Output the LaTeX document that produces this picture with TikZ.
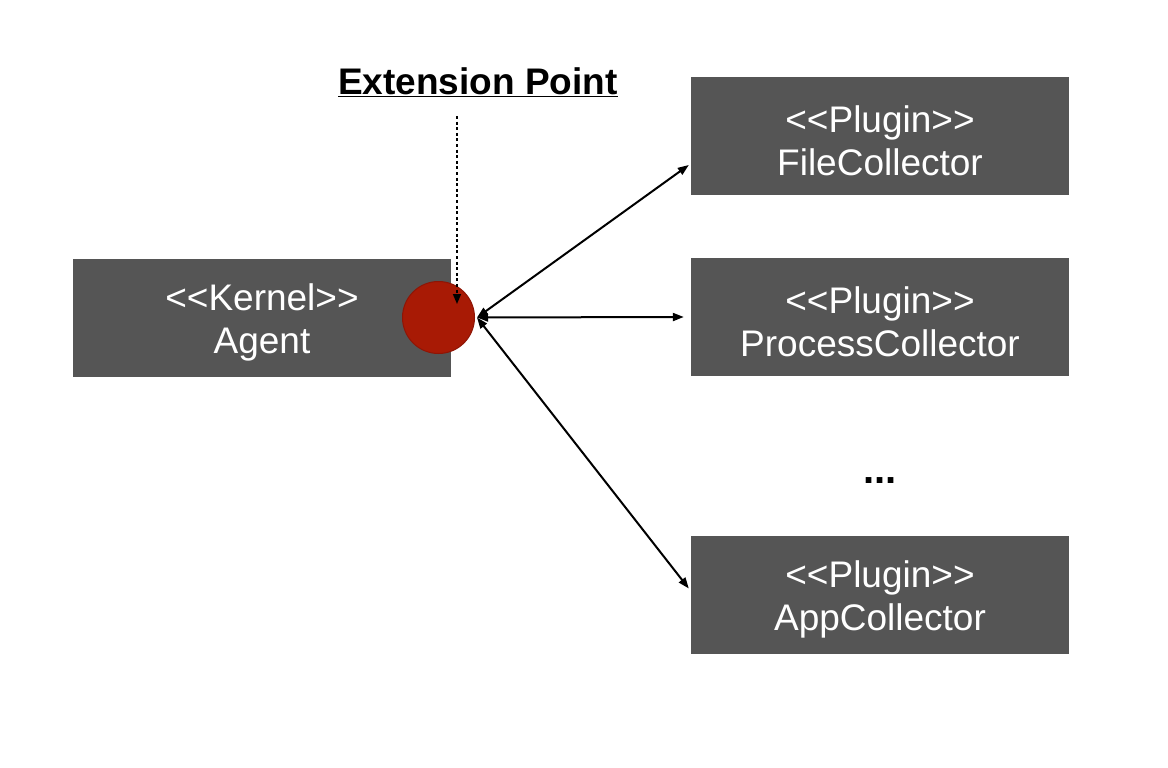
\documentclass[tikz,border=0pt]{standalone}
\usepackage{fontspec}
\setmainfont{Liberation Sans}
\usetikzlibrary{arrows.meta}
\definecolor{boxgray}{HTML}{555555}
\definecolor{epred}{HTML}{A81A05}
\definecolor{epredd}{HTML}{8E1505}
\newcommand{\lt}{\mbox{<}}
\newcommand{\gtt}{\mbox{>}}
\newcommand{\topstrut}{\rule{0pt}{37pt}}
\begin{document}
\begin{tikzpicture}[x=1pt,y=-1pt,
  box/.style={fill=boxgray, draw=none, minimum width=378pt, minimum height=118pt,
    inner sep=0pt, align=center, text=white, font=\fontsize{37}{43}\selectfont},
  conn/.style={line width=2pt, {Triangle[length=11pt,width=8pt]}-{Triangle[length=11pt,width=8pt]}},
  dotconn/.style={line width=1.6pt, dash pattern=on 3pt off 2.6pt, -{Triangle[length=10pt,width=8pt]}}]
\useasboundingbox (0,0) rectangle (1168,768);
\node[box] (agent) at (262,317.5) {\topstrut\lt\lt Kernel\gtt\gtt\\Agent};
\node[box] (file) at (880,136) {\topstrut\lt\lt Plugin\gtt\gtt\\FileCollector};
\node[box] (proc) at (880,317) {\topstrut\lt\lt Plugin\gtt\gtt\\ProcessCollector};
\node[box] (app) at (880,594.5) {\topstrut\lt\lt Plugin\gtt\gtt\\AppCollector};
\node[circle, fill=epred, draw=epredd, line width=1pt, minimum size=72pt, inner sep=0pt] (ep) at (438.5,317.5) {};
\node[font=\fontsize{37}{42}\selectfont\bfseries, inner sep=0pt] (ext) at (478,82) {\underline{Extension Point}};
\node[font=\fontsize{40}{40}\selectfont\bfseries, inner sep=0pt] (dots) at (880,481) {...};
\coordinate (dtop) at (457,116);
\coordinate (dtip) at (457,304);
\draw[dotconn] (dtop) -- (dtip);
\draw[conn] ([xshift=2pt]ep.east) -- ([xshift=-2pt,yshift=-29pt]file.west);
\draw[conn] ([xshift=2pt]ep.east) -- ([xshift=-7pt]proc.west);
\draw[conn] ([xshift=2pt]ep.east) -- ([xshift=-2pt,yshift=6pt]app.west);
\end{tikzpicture}
\end{document}
